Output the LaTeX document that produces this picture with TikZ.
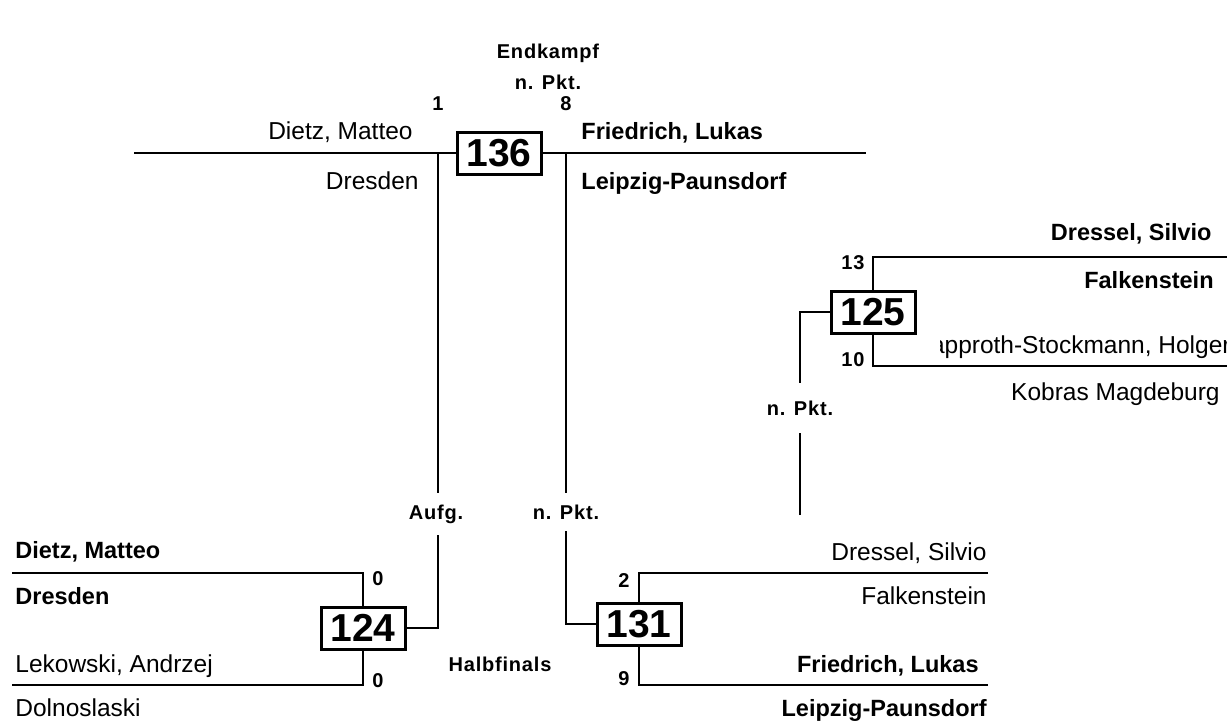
\documentclass[tikz,border=0pt]{standalone}
\usepackage{fontspec}
\setmainfont{Liberation Sans}
\newfontfamily\notefam[LetterSpace=4]{Liberation Sans}
\usetikzlibrary{positioning}
\newcommand\entrantfont{\fontsize{24.5}{28}\selectfont}
\newcommand\champfont{\bfseries\fontsize{23.5}{28}\selectfont}
\newcommand\notefont{\notefam\bfseries\fontsize{20}{24}\selectfont}
\newcommand\boutfont{\bfseries\fontsize{39}{42}\selectfont}
\begin{document}
\begin{tikzpicture}[x=1pt, y=-1pt, line width=2.8pt,
  bout/.style={draw, line width=3pt, fill=white, minimum width=84pt, minimum height=42pt, inner sep=0pt, font=\boutfont},
  entrant/.style={inner sep=0pt, font=\entrantfont},
  champ/.style={inner sep=0pt, font=\champfont},
  note/.style={inner sep=0pt, font=\notefont},
  gap/.style={note, fill=white, inner ysep=12pt, inner xsep=2pt}]
\useasboundingbox (0,0) rectangle (1227,724);
\node [bout] (b136) at (499,153) {136};
\node [bout] (b124) at (363,628) {124};
\node [bout] (b131) at (639,624) {131};
\node [bout] (b125) at (873,312) {125};
\coordinate (f1) at (134,153);
\coordinate (f2) at (866,153);
\coordinate (j1) at (438,153);
\coordinate (j2) at (566,153);
\coordinate (d125) at (800,515);
\coordinate (e124a) at (12,573);
\coordinate (e124b) at (12,685);
\coordinate (e131a) at (988,573);
\coordinate (e131b) at (988,685);
\coordinate (e125a) at (1227,257);
\coordinate (e125b) at (1227,366);
% final
\draw (f1) -- (b136.west);
\draw (b136.east) -- (f2);
\draw (j1) |- (b124.east);
\draw (j2) |- (b131.west);
\draw (d125) |- (b125.west);
% semi-finals
\draw (e124a) -| (b124.north);
\draw (e124b) -| (b124.south);
\draw (e131a) -| (b131.north);
\draw (e131b) -| (b131.south);
\draw (e125a) -| (b125.north);
\draw (e125b) -| (b125.south);
% labels on the lines
\node [note, anchor=base] (t1) at (548,58) {Endkampf};
\node [note, anchor=base] (t2) at (548,89) {n. Pkt.};
\node [note, anchor=base] (s1) at (438,110) {1};
\node [note, anchor=base] (s8) at (566,110) {8};
\node [gap, anchor=base] (t3) at (436,519) {Aufg.};
\node [gap, anchor=base] (t4) at (566,519) {n. Pkt.};
\node [gap, anchor=base, inner ysep=18pt] (t5) at (800,415) {n. Pkt.};
\node [note, anchor=base] (t6) at (500,671) {Halbfinals};
\node [note, anchor=base] (s124a) at (378,585) {0};
\node [note, anchor=base] (s124b) at (378,687) {0};
\node [note, anchor=base] (s131a) at (624,587) {2};
\node [note, anchor=base] (s131b) at (624,685) {9};
\node [note, anchor=base] (s125a) at (853,269) {13};
\node [note, anchor=base] (s125b) at (853,366) {10};
% names
\node [entrant, anchor=base east] (n1) at (414,139) {Dietz, Matteo};
\node [entrant, anchor=base east] (n2) at (420,189) {Dresden};
\node [champ, anchor=base west] (n3) at (580,139) {Friedrich, Lukas};
\node [champ, anchor=base west] (n4) at (580,189) {Leipzig-Paunsdorf};
\node [champ, anchor=base west] (n5) at (14,558) {Dietz, Matteo};
\node [champ, anchor=base west] (n6) at (14,604) {Dresden};
\node [entrant, anchor=base west] (n7) at (14,672) {Lekowski, Andrzej};
\node [entrant, anchor=base west] (n8) at (14,716) {Dolnoslaski};
\node [entrant, anchor=base east] (n9) at (988,560) {Dressel, Silvio};
\node [entrant, anchor=base east] (n10) at (988,604) {Falkenstein};
\node [champ, anchor=base east] (n11) at (980,672) {Friedrich, Lukas};
\node [champ, anchor=base east] (n12) at (988,716) {Leipzig-Paunsdorf};
\node [champ, anchor=base east] (n13) at (1213,240) {Dressel, Silvio};
\node [champ, anchor=base east] (n14) at (1215,288) {Falkenstein};
\begin{scope}
\clip (940,330) rectangle (1227,362);
\node [entrant, anchor=base east] (n15) at (1232,353) {Klapproth-Stockmann, Holger};
\end{scope}
\node [entrant, anchor=base east] (n16) at (1221,400) {Kobras Magdeburg};
\end{tikzpicture}
\end{document}
